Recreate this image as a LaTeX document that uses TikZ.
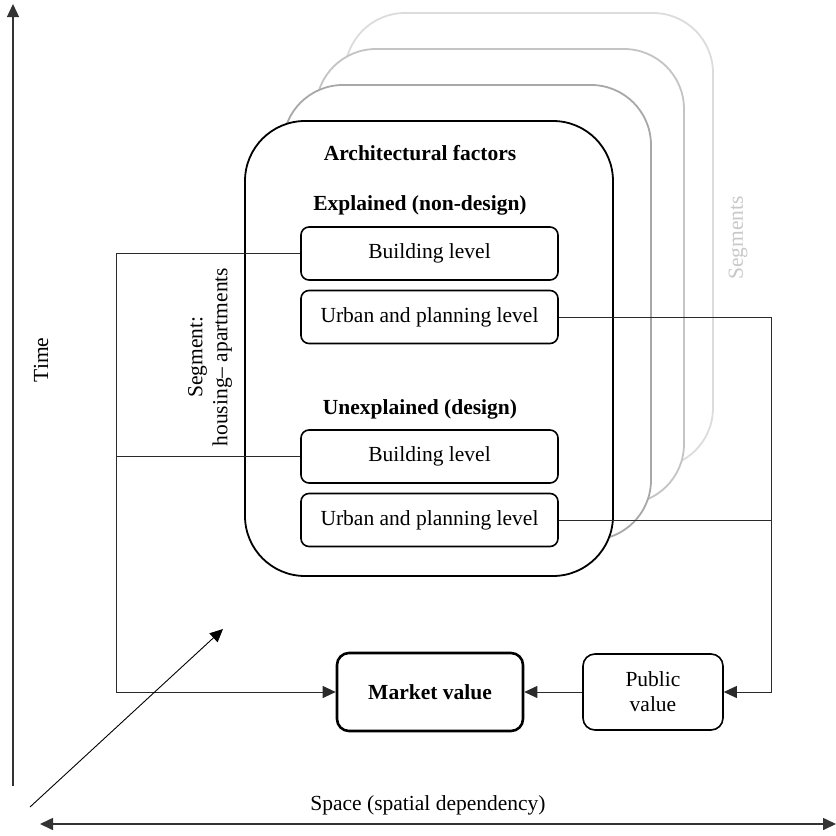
\documentclass[tikz,border=0pt]{standalone}
\usepackage{fontspec}
\setmainfont{Liberation Serif}
\usetikzlibrary{arrows.meta}
\definecolor{wirecol}{HTML}{2A2A2A}
\definecolor{segA}{HTML}{A8A8A8}
\definecolor{segB}{HTML}{C4C4C4}
\definecolor{segC}{HTML}{DCDCDC}
\definecolor{segtext}{HTML}{C8C8C8}
\begin{document}
\begin{tikzpicture}[x=1pt,y=-1pt,
  every node/.style={font=\fontsize{21.5}{25}\selectfont, inner sep=0pt},
  heading/.style={font=\fontsize{21.5}{25}\selectfont\bfseries},
  level/.style={draw, line width=1.6pt, rounded corners=8pt,
    minimum width=257pt, minimum height=53pt},
  valuebox/.style={draw, rounded corners=12pt, align=center},
  frame/.style={line width=1.8pt, rounded corners=60pt, fill=white},
  wire/.style={line width=0.9pt, draw=wirecol},
  tip/.style={-{Triangle[length=13pt,width=12pt]}},
  axis/.style={line width=1.3pt, draw=black!80}]
\useasboundingbox (0,0) rectangle (836,836);

% stacked segment frames, back to front
\draw[frame, draw=segC] (345,13) rectangle (713,468);
\draw[frame, draw=segB] (316,49) rectangle (684,504);
\draw[frame, draw=segA] (283,85) rectangle (651,540);
\draw[frame, draw=black] (245,121) rectangle (613,576);

\node[rotate=90, text=segtext] (segs) at (738,238) {Segments};

% contents of the front frame
\node[heading] (arch) at (420,153) {Architectural factors};
\node[heading] (expl) at (420,205) {Explained (non-design)};
\node[level] (b1) at (429.5,253.5) {Building level};
\node[level] (u1) at (429.5,317) {Urban and planning level};
\node[heading] (unexpl) at (420,409) {Unexplained (design)};
\node[level] (b2) at (429.5,456.5) {Building level};
\node[level] (u2) at (429.5,520) {Urban and planning level};

\node[rotate=90, align=center] (seg) at (210,357) {Segment:\\housing– apartments};

% value boxes
\node[valuebox, line width=2.6pt, minimum width=186pt, minimum height=78pt,
  font=\fontsize{21.5}{25}\selectfont\bfseries] (market) at (430,692) {Market value};
\node[valuebox, line width=1.6pt, minimum width=140pt, minimum height=76pt] (public) at (653,692) {Public\\value};

% connectors
\coordinate (lt) at (116,253.5);
\coordinate (lm) at (116,456.5);
\coordinate (lb) at (116,692);
\coordinate (rt) at (771,317);
\coordinate (rm) at (771,520);
\coordinate (rb) at (771,692);
\draw[wire, tip] (b1.west) -- (lt) -- (lb) -- (market.west);
\draw[wire] (b2.west) -- (lm);
\draw[wire, tip] (u1.east) -- (rt) -- (rb) -- (public.east);
\draw[wire] (u2.east) -- (rm);
\draw[wire, tip] (public.west) -- (market.east);

% axes
\coordinate (t0) at (13,786);
\coordinate (t1) at (13,4);
\draw[axis, tip] (t0) -- (t1);
\node[rotate=90] (time) at (41,360) {Time};

\coordinate (d0) at (30,807);
\coordinate (d1) at (223,629);
\draw[line width=0.9pt, tip] (d0) -- (d1);

\coordinate (s0) at (40,824);
\coordinate (s1) at (836,824);
\draw[axis, line width=1.6pt, {Triangle[length=13pt,width=12pt]}-{Triangle[length=13pt,width=12pt]}] (s0) -- (s1);
\node (space) at (428,805) {Space (spatial dependency)};
\end{tikzpicture}
\end{document}
